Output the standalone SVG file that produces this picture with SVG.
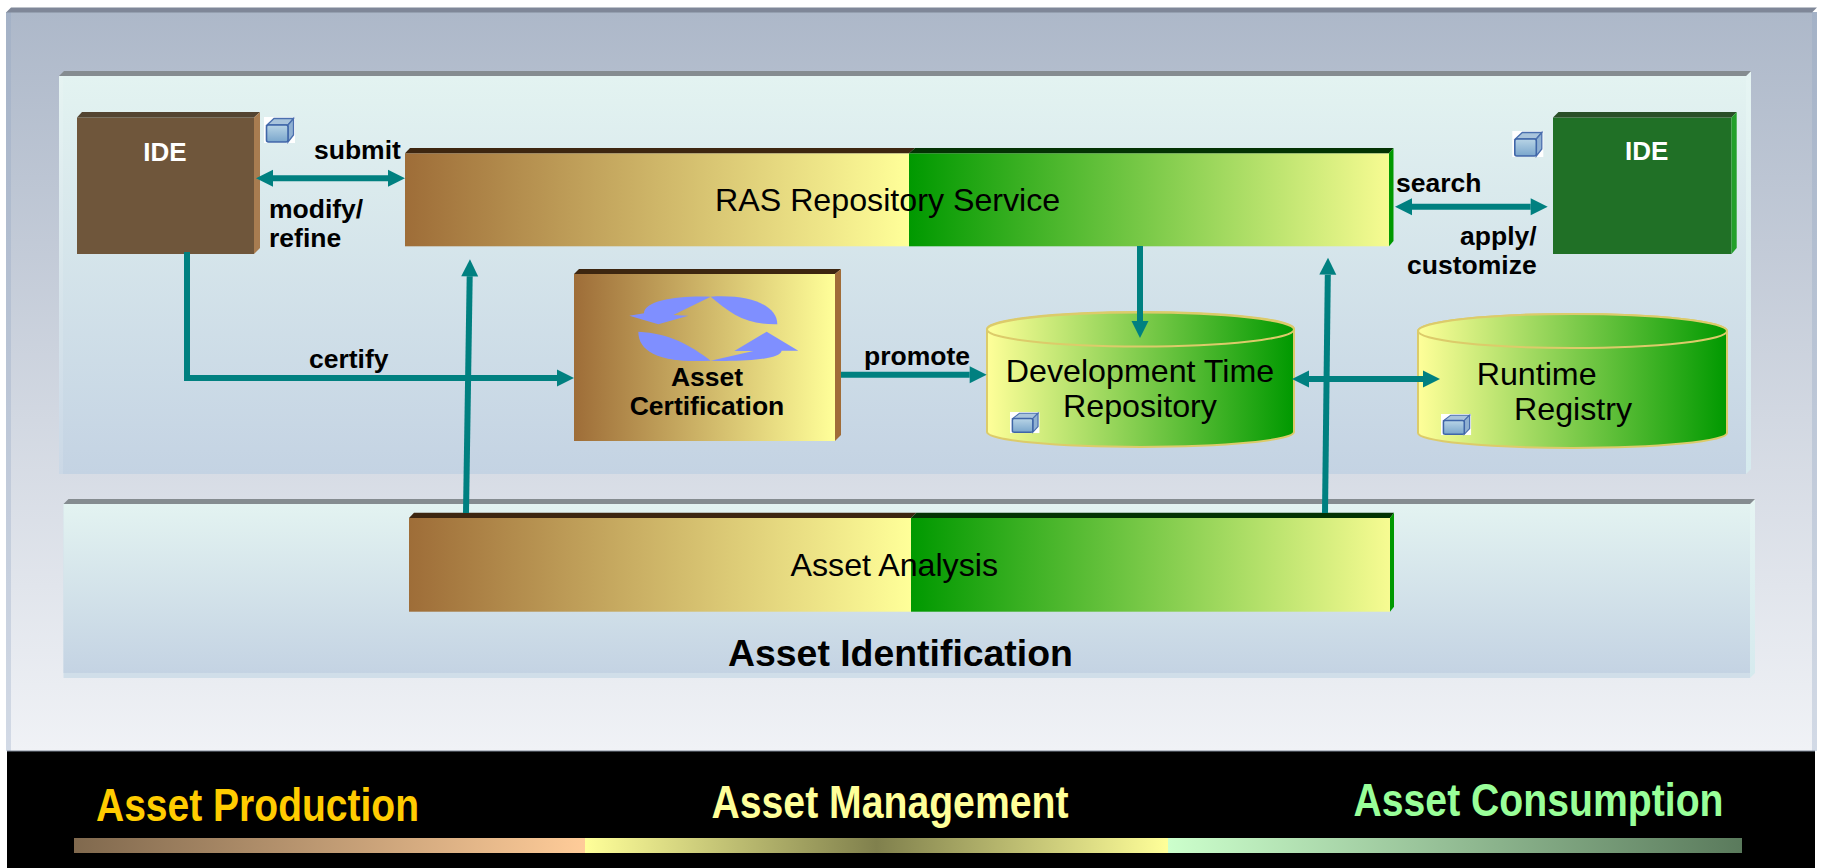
<svg xmlns="http://www.w3.org/2000/svg" width="1821" height="868" viewBox="0 0 1821 868">
<style>
text{font-family:"Liberation Sans",Arial,sans-serif;fill:#000}
.b{font-weight:700;font-size:26.5px}
.r{font-size:32.2px}
.w{fill:#fff;font-weight:700;font-size:26px;text-anchor:middle}
.m{text-anchor:middle}
.e{text-anchor:end}
.big{font-weight:700;font-size:47px}
.conn{fill:none;stroke:#008080;stroke-width:6;marker-end:url(#ah)}
.two{marker-start:url(#ahs)}
.plain{fill:none;stroke:#008080;stroke-width:6}
.band{fill:#858c90}
.brtop{fill:#3d2610}
.grtop{fill:#033303}
.cyl{stroke:#dccb6a;stroke-width:2;fill:url(#cylg)}
.blue{fill:#7f8fff}
</style>
<defs>
<linearGradient id="outerg" x1="0" y1="0" x2="0" y2="1"><stop offset="0" stop-color="#adb8c9"/><stop offset="1" stop-color="#f0f2f6"/></linearGradient>
<linearGradient id="panelg" x1="0" y1="0" x2="0" y2="1"><stop offset="0" stop-color="#e3f3f1"/><stop offset="1" stop-color="#c4d3e3"/></linearGradient>
<linearGradient id="panels" x1="0" y1="0" x2="0" y2="1"><stop offset="0" stop-color="#e6f5f3"/><stop offset="1" stop-color="#d6eaee"/></linearGradient>
<linearGradient id="brown"><stop offset="0" stop-color="#9e6d38"/><stop offset="1" stop-color="#ffff99"/></linearGradient>
<linearGradient id="green"><stop offset="0" stop-color="#009900"/><stop offset="1" stop-color="#f7fb92"/></linearGradient>
<linearGradient id="cylg"><stop offset="0" stop-color="#ffff99"/><stop offset="1" stop-color="#009900"/></linearGradient>
<linearGradient id="bar1"><stop offset="0" stop-color="#80694e"/><stop offset="1" stop-color="#ffcc99"/></linearGradient>
<linearGradient id="bar2"><stop offset="0" stop-color="#ffff99"/><stop offset=".5" stop-color="#80804d"/><stop offset="1" stop-color="#ffff99"/></linearGradient>
<linearGradient id="bar3"><stop offset="0" stop-color="#ccffcc"/><stop offset="1" stop-color="#5a7a5c"/></linearGradient>
<linearGradient id="cube" x1="0" y1="0" x2="0" y2="1"><stop offset="0" stop-color="#b8d4e6"/><stop offset="1" stop-color="#7aa6cc"/></linearGradient>
<marker id="ah" markerUnits="userSpaceOnUse" markerWidth="18" markerHeight="18" refX="0" refY="9" orient="auto" overflow="visible"><path d="M0,.5 L17,9 L0,17.5Z" fill="#008080"/></marker>
<marker id="ahs" markerUnits="userSpaceOnUse" markerWidth="18" markerHeight="18" refX="0" refY="9" orient="auto-start-reverse" overflow="visible"><path d="M0,.5 L17,9 L0,17.5Z" fill="#008080"/></marker>
<g id="icon">
<rect width="31" height="26" fill="#fff"/>
<path d="M3,8 L10,1.500 H29.500 L24,8Z" fill="#a9c4dc" stroke="#4a6fae" stroke-width="1.3"/>
<path d="M24,8 L29.500,1.500 V18 L24,25Z" fill="#8fb0d2" stroke="#4a6fae" stroke-width="1.3"/>
<rect x="2.500" y="8" width="21.500" height="17" rx="2" fill="url(#cube)" stroke="#3f66a8" stroke-width="1.6"/>
</g>
</defs>

<g id="background">
<rect x="6" y="12" width="1811" height="739" fill="url(#outerg)"/>
<rect x="6" y="12" width="5" height="739" fill="#8fa3c0" opacity=".3"/>
<rect x="1812" y="12" width="5" height="739" fill="#8fa3c0" opacity=".3"/>
<path d="M6,12.500 L11,7.500 H1817 L1812,12.500Z" fill="#7f8798"/>
</g>

<g id="panel-upper">
<rect x="59" y="76" width="1687" height="398" fill="url(#panelg)"/>
<rect x="59" y="76" width="4" height="398" fill="#fff" opacity=".12"/>
<path d="M1746,76 L1751,71 V469 L1746,474Z" fill="url(#panels)"/>
<path d="M59,76 L64,71 H1751 L1746,76Z" class="band"/>
</g>

<g id="panel-lower">
<rect x="63.500" y="504" width="1686.500" height="174" fill="#d0dee9"/>
<rect x="63.500" y="504" width="1686.500" height="169" fill="url(#panelg)"/>
<path d="M1750,504 L1755,499 V673 L1750,678Z" fill="url(#panels)"/>
<path d="M63.500,504 L68.500,499 H1755 L1750,504Z" class="band"/>
<text x="728" y="666" font-size="37.400" font-weight="700">Asset Identification</text>
</g>

<g id="ide-left">
<rect x="77" y="117.500" width="177" height="136.500" fill="#6f563b"/>
<path d="M77,117.500 L82,112 H260 L254,117.500Z" fill="#534431"/>
<path d="M254,117.500 L260,112 V248 L254,254Z" fill="#a87c50"/>
<text x="165" y="160.500" class="w">IDE</text>
<use href="#icon" x="264" y="117"/>
</g>

<g id="ide-right">
<rect x="1553" y="117.500" width="178.500" height="136.500" fill="#207026"/>
<path d="M1553,117.500 L1558.500,112 H1736.700 L1731.500,117.500Z" fill="#2a4f28"/>
<path d="M1731.500,117.500 L1736.700,112 V248 L1731.500,254Z" fill="#22a02a"/>
<text x="1646.700" y="160" class="w">IDE</text>
<use href="#icon" x="1512.300" y="131"/>
</g>

<g id="ras-service">
<rect x="405" y="153.300" width="504" height="93" fill="url(#brown)"/>
<rect x="909" y="153.300" width="480" height="93" fill="url(#green)"/>
<path d="M405,153.300 L410,148 H915 L909,153.300Z" class="brtop"/>
<path d="M909,153.300 L915,148 H1393.500 L1389,153.300Z" class="grtop"/>
<path d="M1389,153.300 L1393.500,148 V241 L1389,246.300Z" fill="#009900"/>
<text x="715" y="211" class="r">RAS Repository Service</text>
</g>

<g id="asset-certification">
<rect x="574" y="274" width="261" height="167" fill="url(#brown)"/>
<path d="M574,274 L579,269 H841 L835,274Z" class="brtop"/>
<path d="M835,274 L841,269 V435 L835,441Z" fill="#a06c38"/>
<g transform="translate(540,250) scale(.33333)">
<path class="blue" d="M512,140 C420,136 312,150 312,190 L268,197 L355,223 L445,197 L400,195Z"/>
<path class="blue" d="M512,140 C640,132 712,170 712,223 C620,225 570,190 512,140Z"/>
<path class="blue" d="M295,245 C390,250 450,285 512,332 C370,340 295,310 295,245Z"/>
<path class="blue" d="M512,332 L640,303 L583,303 L680,245 L775,302 L725,302 C720,328 620,335 512,332Z"/>
</g>
<text x="707" y="386" class="b m">Asset</text>
<text x="707" y="415" class="b m">Certification</text>
</g>

<g id="dev-repository">
<path class="cyl" d="M987,329 V432 A153.500,15 0 0 0 1294,432 V329 A153.500,17 0 0 0 987,329Z"/>
<ellipse class="cyl" cx="1140.500" cy="329.500" rx="153.500" ry="17"/>
<text x="1140" y="382.300" class="r m">Development Time</text>
<text x="1140" y="417.300" class="r m">Repository</text>
<use href="#icon" transform="translate(1010,412) scale(.95,.81)"/>
</g>

<g id="runtime-registry">
<path class="cyl" d="M1418,331 V433 A154.500,15 0 0 0 1727,433 V331 A154.500,17 0 0 0 1418,331Z"/>
<ellipse class="cyl" cx="1572.500" cy="331" rx="154.500" ry="17"/>
<text x="1476.700" y="385" class="r">Runtime</text>
<text x="1514" y="420" class="r">Registry</text>
<use href="#icon" transform="translate(1441,414) scale(.97,.81)"/>
</g>

<g id="asset-analysis">
<rect x="409" y="518" width="502" height="93.700" fill="url(#brown)"/>
<rect x="911" y="518" width="479" height="93.700" fill="url(#green)"/>
<path d="M409,518 L414,512.700 H916.500 L911,518Z" class="brtop"/>
<path d="M911,518 L916.500,512.700 H1394 L1390,518Z" class="grtop"/>
<path d="M1390,518 L1394,512.700 V606.700 L1390,611.700Z" fill="#009900"/>
<text x="790.500" y="576" class="r">Asset Analysis</text>
</g>

<g id="connectors">
<line class="conn two" x1="273" y1="178.300" x2="388" y2="178.300"/>
<line class="conn two" x1="1412" y1="206.700" x2="1530.700" y2="206.700"/>
<path class="plain" d="M187,252 V378 H557"/>
<path d="M557,369.500 L574,378 L557,386.500Z" fill="#008080"/>
<line class="conn" x1="841" y1="374.700" x2="969.700" y2="374.700"/>
<line class="conn" x1="1140" y1="246" x2="1140" y2="321"/>
<line class="conn two" x1="1309" y1="379" x2="1423" y2="379"/>
<line class="conn" x1="466" y1="513" x2="469.700" y2="276.300"/>
<line class="conn" x1="1325" y1="513" x2="1327.800" y2="274.700"/>
</g>

<g id="labels">
<text x="314" y="159" class="b">submit</text>
<text x="269" y="218" class="b">modify/</text>
<text x="269" y="247" class="b">refine</text>
<text x="309" y="368" class="b">certify</text>
<text x="864" y="365" class="b">promote</text>
<text x="1396" y="192" class="b">search</text>
<text x="1536.700" y="245" class="b e">apply/</text>
<text x="1536.700" y="274" class="b e">customize</text>
</g>

<g id="footer">
<rect x="7" y="751" width="1808" height="117" fill="#000"/>
<rect x="7" y="750.500" width="1808" height="1" fill="#7f8798"/>
<rect x="74" y="838" width="511" height="15" fill="url(#bar1)"/>
<rect x="585" y="838" width="583" height="15" fill="url(#bar2)"/>
<rect x="1168" y="838" width="574" height="15" fill="url(#bar3)"/>
<text x="96" y="821" class="big" style="fill:#ffcc00" textLength="323" lengthAdjust="spacingAndGlyphs">Asset Production</text>
<text x="711.500" y="817.500" class="big" style="fill:#ffff99" textLength="357" lengthAdjust="spacingAndGlyphs">Asset Management</text>
<text x="1353.500" y="815.500" class="big" style="fill:#99ff99" textLength="370" lengthAdjust="spacingAndGlyphs">Asset Consumption</text>
</g>
</svg>
